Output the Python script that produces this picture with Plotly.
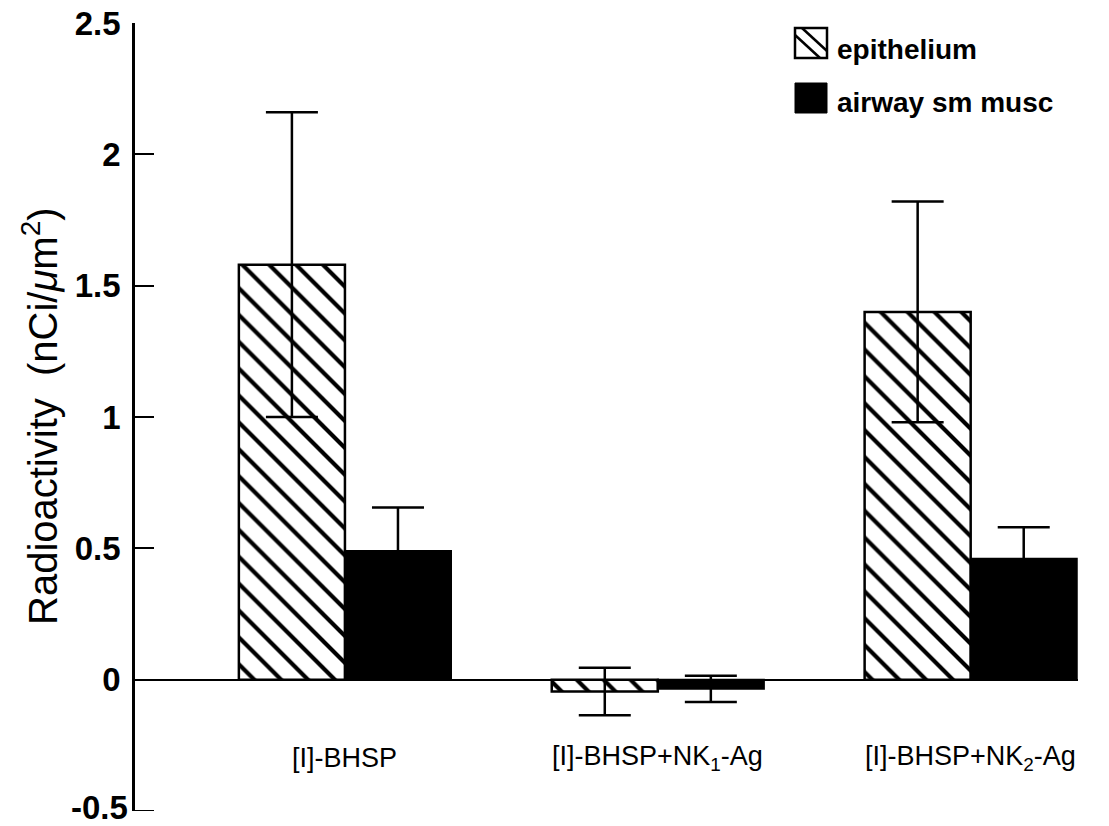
import plotly.graph_objects as go

# ---- data ----
categories = [0, 1, 2]
category_labels = ["[I]-BHSP", "[I]-BHSP+NK<sub>1</sub>-Ag", "[I]-BHSP+NK<sub>2</sub>-Ag"]
epithelium = [1.58, -0.045, 1.40]
epithelium_err = [0.58, 0.09, 0.42]
airway = [0.49, -0.035, 0.46]
airway_err = [0.165, 0.05, 0.12]
y_ticks = [-0.5, 0, 0.5, 1, 1.5, 2, 2.5]
y_ticktext = ["-0.5", "0", "0.5", "1", "1.5", "2", "2.5"]
legend_names = ["epithelium", "airway sm musc"]

W, H = 1109, 826
L, R, T, B = 135, 1078, 23, 811  # plot area in pixels


def px(x):
    return (x - L) / (R - L)


def py(y):
    return (B - y) / (B - T)


FONT = "Liberation Sans, Arial, Helvetica, sans-serif"
TICKFONT = dict(family=FONT, size=33, color="black", weight="bold")

fig = go.Figure()
fig.add_trace(go.Bar(
    x=categories, y=epithelium, name=legend_names[0],
    marker=dict(color="white",
                line=dict(color="black", width=2.5),
                pattern=dict(shape="\\", size=19, solidity=0.22,
                             fgcolor="black", bgcolor="white", fgopacity=1)),
    error_y=dict(type="data", array=epithelium_err, color="black",
                 thickness=2.5, width=26),
    showlegend=False,
))
fig.add_trace(go.Bar(
    x=categories, y=airway, name=legend_names[1],
    marker=dict(color="black", line=dict(color="black", width=2)),
    error_y=dict(type="data", array=airway_err, color="black",
                 thickness=2.5, width=26),
    showlegend=False,
))

shapes = []
# legend: hatched box
shapes.append(dict(type="rect", xref="paper", yref="paper",
                   x0=px(795), x1=px(827), y0=py(58), y1=py(28),
                   line=dict(color="black", width=2.5), fillcolor="white"))
shapes.append(dict(type="line", xref="paper", yref="paper",
                   x0=px(795), y0=py(35), x1=px(820), y1=py(58),
                   line=dict(color="black", width=2.5)))
shapes.append(dict(type="line", xref="paper", yref="paper",
                   x0=px(802), y0=py(28), x1=px(827), y1=py(51),
                   line=dict(color="black", width=2.5)))
# legend: black box
shapes.append(dict(type="rect", xref="paper", yref="paper",
                   x0=px(795), x1=px(827), y0=py(113), y1=py(83),
                   line=dict(color="black", width=1), fillcolor="black"))
# bottom tick of the y axis (plotly drops the one at the very edge)
shapes.append(dict(type="line", xref="paper", yref="y",
                   x0=0, x1=px(L + 19), y0=y_ticks[0], y1=y_ticks[0],
                   line=dict(color="black", width=2)))

annotations = []
annotations.append(dict(xref="paper", yref="paper", x=px(835), y=py(50),
                        text=f"<b>{legend_names[0]}</b>", showarrow=False,
                        xanchor="left", yanchor="middle",
                        font=dict(family=FONT, size=28, color="black")))
annotations.append(dict(xref="paper", yref="paper", x=px(835), y=py(103),
                        text=f"<b>{legend_names[1]}</b>", showarrow=False,
                        xanchor="left", yanchor="middle",
                        font=dict(family=FONT, size=28, color="black")))
# x category labels (inside the plot, below the zero line)
for c, lab in zip(categories, category_labels):
    annotations.append(dict(xref="x", yref="y", x=c, y=-0.297, text=lab,
                            showarrow=False, xanchor="center", yanchor="middle",
                            font=dict(family=FONT, size=27, color="black")))
# bottom y tick label
annotations.append(dict(xref="paper", yref="y", x=px(L - 5), y=y_ticks[0],
                        text=y_ticktext[0], showarrow=False,
                        xanchor="right", yanchor="middle", yshift=4,
                        font=TICKFONT))
# y title
annotations.append(dict(xref="paper", yref="paper", x=px(40), y=py(416),
                        text="Radioactivity  (nCi/<i>μ</i>m<sup>2</sup>)",
                        textangle=-90, showarrow=False,
                        xanchor="center", yanchor="middle",
                        font=dict(family=FONT, size=40, color="black")))

fig.update_layout(
    width=W, height=H,
    margin=dict(l=L, r=W - R, t=T, b=H - B, pad=0, autoexpand=False),
    paper_bgcolor="white", plot_bgcolor="white",
    barmode="group", bargap=0.322, bargroupgap=0,
    shapes=shapes, annotations=annotations,
    xaxis=dict(range=[-0.671, 2.343], showline=False, showgrid=False,
               zeroline=False, showticklabels=False, ticks="",
               automargin=False),
    yaxis=dict(range=[-0.5, 2.5], tickvals=y_ticks[1:], ticktext=y_ticktext[1:],
               showline=True, linecolor="black", linewidth=2.5,
               ticks="inside", ticklen=19, tickwidth=2, tickcolor="black",
               ticklabelstandoff=5, automargin=False,
               showgrid=False, zeroline=True, zerolinecolor="black",
               zerolinewidth=1.8,
               tickfont=TICKFONT),
    font=dict(family=FONT, color="black"),
)

fig.write_html(
    "out.html",
    config={"displayModeBar": False},
    post_script="document.body.style.margin='0';document.body.style.overflow='hidden';",
)
